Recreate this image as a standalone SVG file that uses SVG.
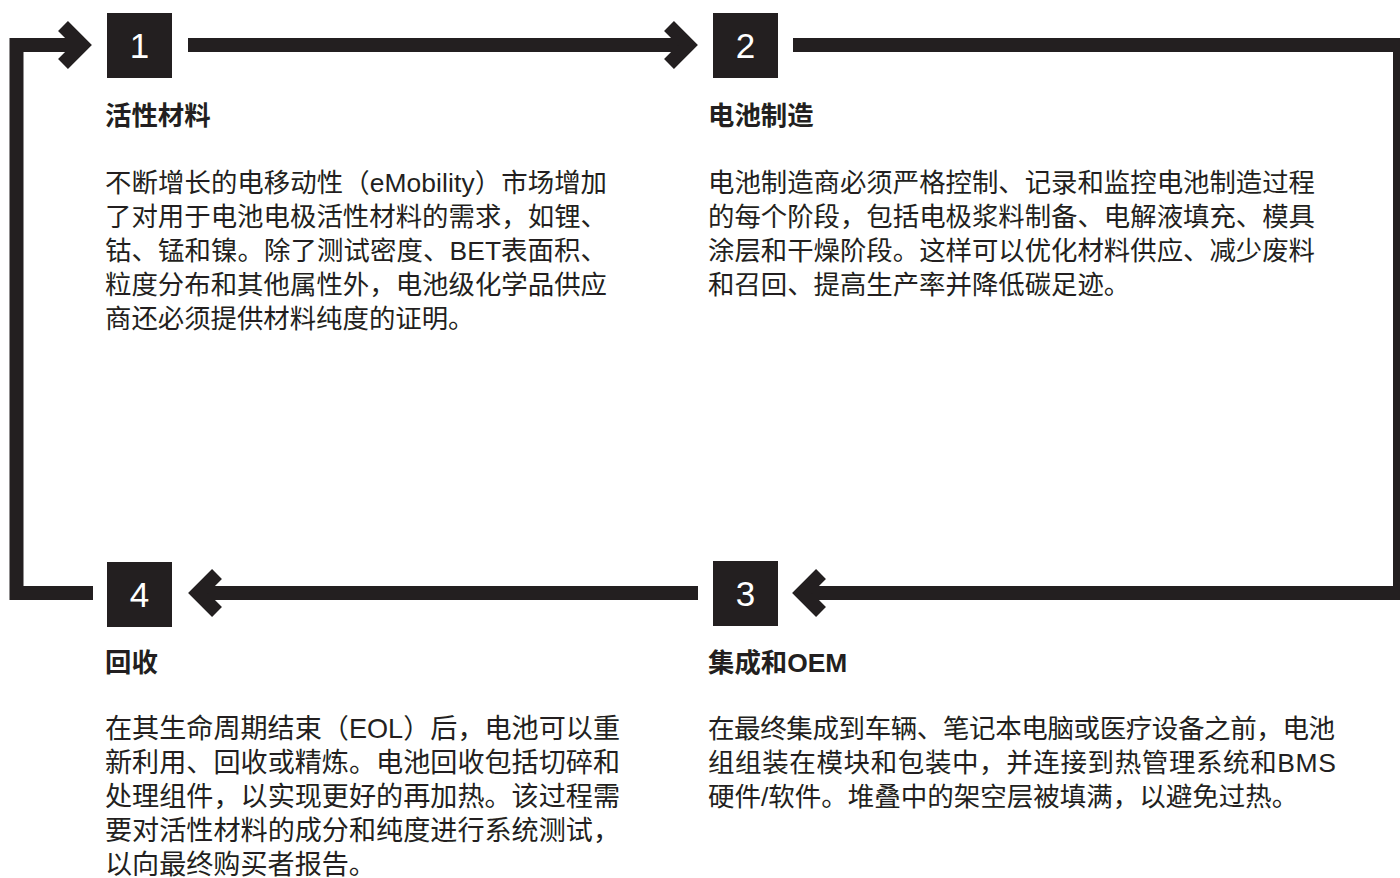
<svg xmlns="http://www.w3.org/2000/svg" width="1400" height="878" viewBox="0 0 1400 878">
<style>
.ln{fill:none;stroke:#231f20;stroke-width:14;stroke-linejoin:miter;stroke-linecap:butt;stroke-miterlimit:10}
.box{fill:#231f20}
.num{font-family:"Liberation Sans","Noto Sans",sans-serif;font-size:35px;fill:#ffffff;text-anchor:middle}
.ttl{font-family:"Liberation Sans","Noto Sans CJK SC",sans-serif;font-size:26.4px;font-weight:bold;fill:#231f20}
.bd{font-family:"Liberation Sans","Noto Sans CJK SC",sans-serif;font-size:26.4px;fill:#231f20}
.bd2{font-family:"Liberation Sans","Noto Sans CJK SC",sans-serif;font-size:27.1px;fill:#231f20}
.bd3{font-family:"Liberation Sans","Noto Sans CJK SC",sans-serif;font-size:26.5px;fill:#231f20}
</style>
<rect width="1400" height="878" fill="#ffffff"/>
<g id="connectors">
<path class="ln" d="M188 45 H688"/>
<polyline class="ln" points="63,26 82,45 63,64"/>
<path class="ln" d="M793 45 H1400 V593 H802"/>
<polyline class="ln" points="669,26 688,45 669,64"/>
<path class="ln" d="M698 593 H198"/>
<polyline class="ln" points="821,574 802,593 821,612"/>
<path class="ln" d="M93 593 H16.5 V45 H82"/>
<polyline class="ln" points="217,574 198,593 217,612"/>
</g>
<g id="node1">
<rect class="box" x="107" y="13" width="65" height="65"/>
<text class="num" x="139.5" y="58">1</text>
<text class="ttl" x="105" y="125">活性材料</text>
<text class="bd" x="105" y="192" textLength="502" lengthAdjust="spacing">不断增长的电移动性（eMobility）市场增加</text>
<text class="bd" x="105" y="226" textLength="502" lengthAdjust="spacing">了对用于电池电极活性材料的需求，如锂、</text>
<text class="bd" x="105" y="260" textLength="502" lengthAdjust="spacing">钴、锰和镍。除了测试密度、BET表面积、</text>
<text class="bd" x="105" y="294" textLength="502" lengthAdjust="spacing">粒度分布和其他属性外，电池级化学品供应</text>
<text class="bd" x="105" y="328">商还必须提供材料纯度的证明。</text>
</g>
<g id="node2">
<rect class="box" x="713" y="13" width="65" height="65"/>
<text class="num" x="745.5" y="58">2</text>
<text class="ttl" x="708" y="125">电池制造</text>
<text class="bd" x="708" y="192" textLength="607" lengthAdjust="spacing">电池制造商必须严格控制、记录和监控电池制造过程</text>
<text class="bd" x="708" y="226" textLength="607" lengthAdjust="spacing">的每个阶段，包括电极浆料制备、电解液填充、模具</text>
<text class="bd" x="708" y="260" textLength="607" lengthAdjust="spacing">涂层和干燥阶段。这样可以优化材料供应、减少废料</text>
<text class="bd" x="708" y="294">和召回、提高生产率并降低碳足迹。</text>
</g>
<g id="node3">
<rect class="box" x="713" y="561" width="65" height="65"/>
<text class="num" x="745.5" y="606">3</text>
<text class="ttl" x="708" y="672">集成和OEM</text>
<text class="bd3" x="708" y="738" textLength="627" lengthAdjust="spacing">在最终集成到车辆、笔记本电脑或医疗设备之前，电池</text>
<text class="bd3" x="708" y="772" textLength="628" lengthAdjust="spacing">组组装在模块和包装中，并连接到热管理系统和BMS</text>
<text class="bd3" x="708" y="806">硬件/软件。堆叠中的架空层被填满，以避免过热。</text>
</g>
<g id="node4">
<rect class="box" x="107" y="562" width="65" height="65"/>
<text class="num" x="139.5" y="607">4</text>
<text class="ttl" x="105" y="672">回收</text>
<text class="bd2" x="105" y="738" textLength="515" lengthAdjust="spacing">在其生命周期结束（EOL）后，电池可以重</text>
<text class="bd2" x="105" y="772" textLength="515" lengthAdjust="spacing">新利用、回收或精炼。电池回收包括切碎和</text>
<text class="bd2" x="105" y="806" textLength="515" lengthAdjust="spacing">处理组件，以实现更好的再加热。该过程需</text>
<text class="bd2" x="105" y="840" textLength="515" lengthAdjust="spacing">要对活性材料的成分和纯度进行系统测试，</text>
<text class="bd2" x="105" y="874">以向最终购买者报告。</text>
</g>
</svg>
